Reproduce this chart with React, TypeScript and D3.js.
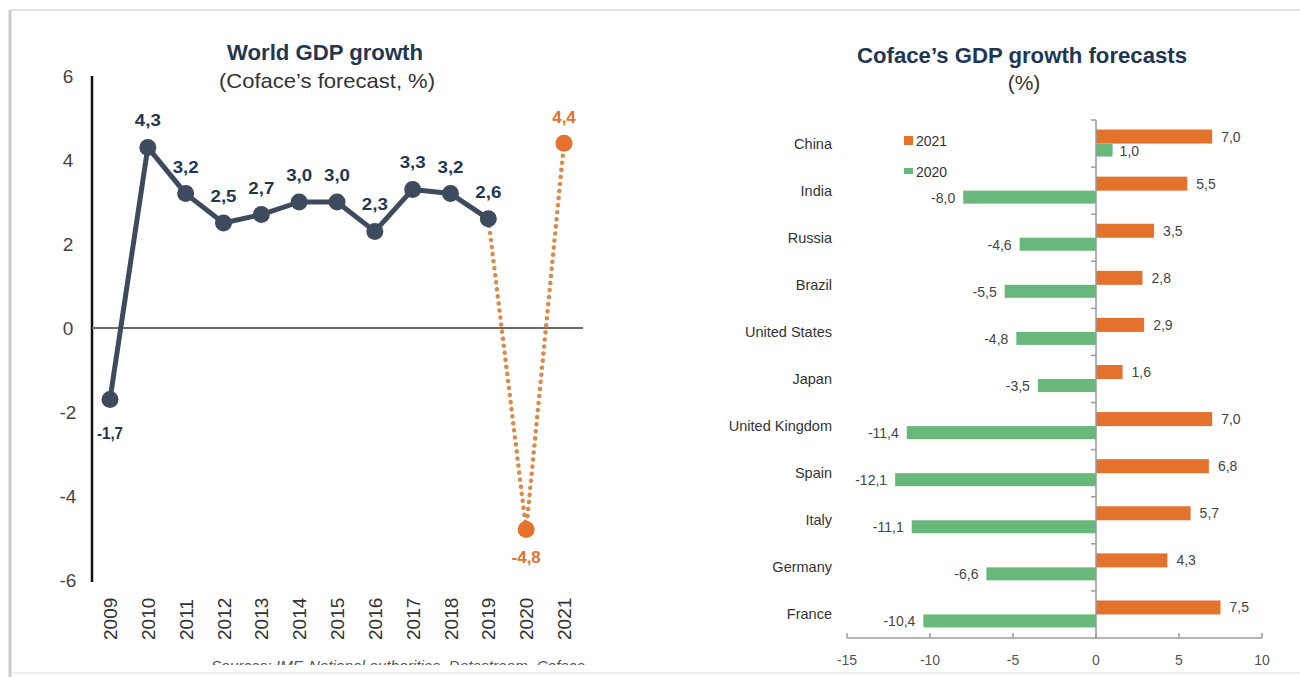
import React from "react";
import * as d3 from "d3";

const years = ["2009","2010","2011","2012","2013","2014","2015","2016","2017","2018","2019","2020","2021"];
const actualYears = ["2009","2010","2011","2012","2013","2014","2015","2016","2017","2018","2019"];
const actualGrowth = [-1.7, 4.3, 3.2, 2.5, 2.7, 3.0, 3.0, 2.3, 3.3, 3.2, 2.6];
const forecastYears = ["2019","2020","2021"];
const forecastGrowth = [2.6, -4.8, 4.4];
const leftTicks = [-6, -4, -2, 0, 2, 4, 6];

const countries = ["China","India","Russia","Brazil","United States","Japan","United Kingdom","Spain","Italy","Germany","France"];
const growth2021 = [7.0, 5.5, 3.5, 2.8, 2.9, 1.6, 7.0, 6.8, 5.7, 4.3, 7.5];
const growth2020 = [1.0, -8.0, -4.6, -5.5, -4.8, -3.5, -11.4, -12.1, -11.1, -6.6, -10.4];
const rightTicks = [-15, -10, -5, 0, 5, 10];
const legendLabels = ["2021", "2020"];

const F = "'Liberation Sans', Arial, sans-serif";
const FN = "'Liberation Sans Narrow', 'Liberation Sans', Arial, sans-serif";
const NAVY = "#3e4a5d";
const LABEL_NAVY = "#1f3752";
const ORANGE = "#e4722d";
const ORANGE_DOT = "#d98b4c";
const GREEN = "#68b87c";
const fmt = (v: number) => d3.format(".1f")(v).replace(".", ",").replace("\u2212", "-");

export default function App() {
  const x = d3.scalePoint<string>().domain(years).range([110, 564]);
  const y = d3.scaleLinear().domain([-6, 6]).range([580, 76]);
  const lineGen = d3.line<number>().x((_, i) => x(actualYears[i])!).y((d) => y(d));
  const fLine = d3.line<number>().x((_, i) => x(forecastYears[i])!).y((d) => y(d));

  const rx = d3.scaleLinear().domain([-15, 10]).range([847, 1262]);
  const ry = d3.scaleBand<string>().domain(countries).range([120, 638]).padding(0);
  const bw = ry.bandwidth();

  return (
    <svg width={1300} height={677} style={{ position: "absolute", left: 0, top: 0, background: "#fff" }}>
      <defs>
        <clipPath id="cardclip"><rect x={0} y={0} width={1300} height={665} /></clipPath>
      </defs>
      <rect x={0} y={0} width={1300} height={677} fill="#fff" />
      <line x1={10} x2={1300} y1={10} y2={10} stroke="#e2e2e2" strokeWidth={2} />
      <line x1={10} x2={10} y1={10} y2={677} stroke="#c9c9c9" strokeWidth={3} />
      <line x1={12} x2={1300} y1={673} y2={673} stroke="#efefef" strokeWidth={2} />

      {/* LEFT CHART */}
      <text x={325} y={60} textAnchor="middle" fontFamily={FN} fontWeight="bold" fontSize={22} fill={LABEL_NAVY} textLength={196} lengthAdjust="spacingAndGlyphs">World GDP growth</text>
      <text x={327} y={88} textAnchor="middle" fontFamily={FN} fontSize={21} fill="#333" textLength={216} lengthAdjust="spacingAndGlyphs">(Coface’s forecast, %)</text>

      {leftTicks.map((t) => (
        <text key={t} x={68} y={y(t) + 7} textAnchor="middle" fontFamily={F} fontSize={19} fill="#444">{t}</text>
      ))}
      <line x1={92} x2={92} y1={y(6)} y2={y(-6) + 2} stroke="#111" strokeWidth={2.5} />
      <line x1={92} x2={583} y1={y(0)} y2={y(0)} stroke="#6b6b6b" strokeWidth={2} />

      {years.map((yr) => (
        <text key={yr} transform={`translate(${x(yr)! + 7},640) rotate(-90)`} fontFamily={F} fontSize={19} fill="#333">{yr}</text>
      ))}

      <path d={fLine(forecastGrowth)!} fill="none" stroke={ORANGE_DOT} strokeWidth={4.5} strokeLinecap="round" strokeDasharray="0.1 7" />
      <path d={lineGen(actualGrowth)!} fill="none" stroke={NAVY} strokeWidth={5} strokeLinejoin="round" />
      {actualGrowth.map((v, i) => (
        <g key={actualYears[i]}>
          <circle cx={x(actualYears[i])!} cy={y(v)} r={8.5} fill={NAVY} />
          <text x={x(actualYears[i])!} y={v < 0 ? y(v) + 40 : y(v) - 21} textAnchor="middle" fontFamily={FN} fontWeight="bold" fontSize={17} fill={LABEL_NAVY} textLength={26} lengthAdjust="spacingAndGlyphs">{fmt(v)}</text>
        </g>
      ))}
      {forecastGrowth.slice(1).map((v, i) => (
        <g key={forecastYears[i + 1]}>
          <circle cx={x(forecastYears[i + 1])!} cy={y(v)} r={8.5} fill={ORANGE} />
          <text x={x(forecastYears[i + 1])!} y={v < 0 ? y(v) + 33 : y(v) - 20} textAnchor="middle" fontFamily={FN} fontWeight="bold" fontSize={17} fill={ORANGE}>{fmt(v)}</text>
        </g>
      ))}
      <g clipPath="url(#cardclip)">
        <text x={398} y={671} textAnchor="middle" fontFamily={F} fontStyle="italic" fontSize={15} fill="#555" textLength={374} lengthAdjust="spacingAndGlyphs">Sources: IMF, National authorities, Datastream, Coface</text>
      </g>

      {/* RIGHT CHART */}
      <text x={1022} y={63} textAnchor="middle" fontFamily={FN} fontWeight="bold" fontSize={22} fill={LABEL_NAVY} textLength={330} lengthAdjust="spacingAndGlyphs">Coface’s GDP growth forecasts</text>
      <text x={1024} y={90} textAnchor="middle" fontFamily={FN} fontSize={21} fill="#333">(%)</text>

      {countries.map((c, i) => {
        const cy = ry(c)! + bw / 2;
        const v1 = growth2021[i];
        const v0 = growth2020[i];
        return (
          <g key={c}>
            <text x={832} y={cy + 5} textAnchor="end" fontFamily={F} fontSize={14.5} fill="#333">{c}</text>
            <rect x={rx(Math.min(0, v1))} y={cy - 14} width={Math.abs(rx(v1) - rx(0))} height={14} fill={ORANGE} />
            <rect x={rx(Math.min(0, v0))} y={cy} width={Math.abs(rx(v0) - rx(0))} height={13} fill={GREEN} />
            <text x={rx(v1) + (v1 >= 0 ? 9 : -9)} y={cy - 2} textAnchor={v1 >= 0 ? "start" : "end"} fontFamily={F} fontSize={14} fill="#444">{fmt(v1)}</text>
            <text x={rx(v0) + (v0 >= 0 ? 7 : -8)} y={cy + 12} textAnchor={v0 >= 0 ? "start" : "end"} fontFamily={F} fontSize={14} fill="#444">{fmt(v0)}</text>
          </g>
        );
      })}

      <line x1={rx(0)} x2={rx(0)} y1={120} y2={638} stroke="#9a9a9a" strokeWidth={1.5} />
      {countries.map((c) => (
        <line key={c} x1={rx(0) - 5} x2={rx(0)} y1={ry(c)!} y2={ry(c)!} stroke="#9a9a9a" strokeWidth={1.5} />
      ))}
      <line x1={rx(-15)} x2={rx(10)} y1={638} y2={638} stroke="#9a9a9a" strokeWidth={1.5} />
      {rightTicks.map((t) => (
        <g key={t}>
          <line x1={rx(t)} x2={rx(t)} y1={633} y2={638} stroke="#9a9a9a" strokeWidth={1.5} />
          <text x={rx(t)} y={665} textAnchor="middle" fontFamily={F} fontSize={14} fill="#555">{t}</text>
        </g>
      ))}

      {legendLabels.map((l, i) => (
        <g key={l}>
          <rect x={904} y={i === 0 ? 136 : 168} width={9} height={i === 0 ? 9 : 6} fill={i === 0 ? ORANGE : GREEN} />
          <text x={916} y={i === 0 ? 146 : 177} fontFamily={F} fontSize={14} fill="#333">{l}</text>
        </g>
      ))}
    </svg>
  );
}
